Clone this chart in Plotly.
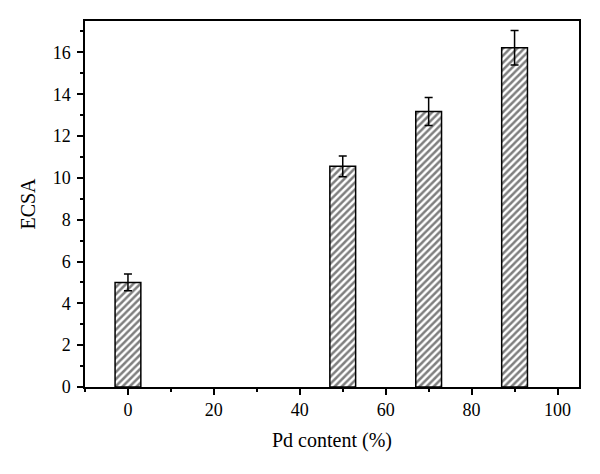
import plotly.graph_objects as go

pd_content = [0, 50, 70, 90]
ecsa = [5.0, 10.55, 13.17, 16.22]
ecsa_err = [0.4, 0.5, 0.67, 0.82]
x_ticks = [0, 20, 40, 60, 80, 100]
y_ticks = [0, 2, 4, 6, 8, 10, 12, 14, 16]

font_family = "Liberation Serif"

fig = go.Figure()
fig.add_trace(go.Bar(
    x=pd_content, y=ecsa, width=6,
    marker=dict(color="white", line=dict(color="black", width=1.5),
                pattern=dict(shape="/", fgcolor="black", bgcolor="white", size=5, solidity=0.5)),
    error_y=dict(type="data", array=ecsa_err, visible=True, color="black", thickness=1.5, width=4),
    showlegend=False,
))

axis_common = dict(
    showline=True, linecolor="black", linewidth=1.5, mirror=True,
    ticks="outside", ticklen=6, tickwidth=1.5, tickcolor="black",
    showgrid=False, zeroline=False,
    tickfont=dict(family=font_family, size=18, color="black"),
)

fig.update_xaxes(range=[-10, 105], tickvals=x_ticks,
                 minor=dict(dtick=10, tick0=0, ticks="outside", ticklen=3, tickwidth=1.5, tickcolor="black"),
                 title=dict(text="Pd content (%)", font=dict(family=font_family, size=20, color="black"), standoff=14),
                 **axis_common)
fig.update_yaxes(range=[0, 17.5], tickvals=y_ticks, ticklabelstandoff=3,
                 minor=dict(dtick=1, tick0=0, ticks="outside", ticklen=3, tickwidth=1.5, tickcolor="black"),
                 title=dict(text="ECSA", font=dict(family=font_family, size=20, color="black"), standoff=12),
                 **axis_common)

fig.update_layout(
    width=600, height=474,
    margin=dict(l=77, r=29, t=13, b=95, autoexpand=False),
    plot_bgcolor="white", paper_bgcolor="white",
    font=dict(family=font_family, color="black"),
)

fig.write_html("out.html")
